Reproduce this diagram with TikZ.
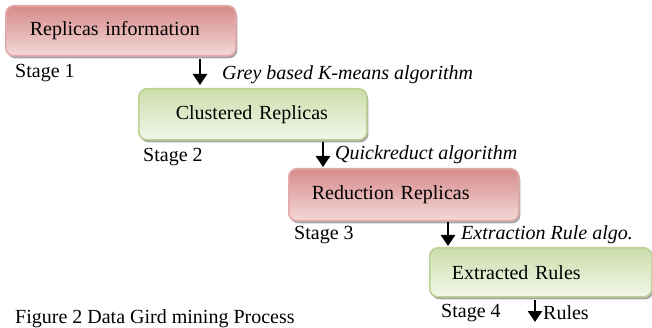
\documentclass[tikz,border=0pt]{standalone}
\usepackage{fontspec}
\setmainfont{Liberation Serif}
\usetikzlibrary{arrows.meta,shadows}
\definecolor{redtop}{HTML}{D68C8B}
\definecolor{redbot}{HTML}{F3D8D7}
\definecolor{redline}{HTML}{E2ABAA}
\definecolor{greentop}{HTML}{CCDDAA}
\definecolor{greenbot}{HTML}{F3F7EA}
\definecolor{greenline}{HTML}{BDD295}
\begin{document}
\begin{tikzpicture}[x=1pt,y=-1pt,
  font=\fontsize{20}{24}\selectfont,
  box/.style={draw, line width=1.6pt, rounded corners=8pt, anchor=north west,
    inner xsep=0pt, inner ysep=0pt, align=left,
    drop shadow={shadow xshift=1.5pt, shadow yshift=-2.5pt, fill=black, opacity=0.35}},
  redbox/.style={box, draw=redline, top color=redtop, bottom color=redbot},
  greenbox/.style={box, draw=greenline, top color=greentop, bottom color=greenbot},
  stagelbl/.style={anchor=base west, inner sep=0pt},
  algolbl/.style={anchor=base west, inner sep=0pt, font=\fontsize{20}{24}\selectfont\itshape},
  flow/.style={line width=2.8pt, -{Triangle[length=11pt,width=14pt]}}
]
\useasboundingbox (0,0) rectangle (652,328);

\node[redbox, minimum width=230pt, minimum height=50pt, text width=230pt] (b1) at (5,5) {\hspace*{24pt}Replicas information};
\node[greenbox, minimum width=228pt, minimum height=51pt, text width=228pt] (b2) at (138,88) {\hspace*{37pt}Clustered Replicas};
\node[redbox, minimum width=230pt, minimum height=52pt, text width=230pt] (b3) at (288,168) {\hspace*{23pt}Reduction Replicas};
\node[greenbox, minimum width=222pt, minimum height=49pt, text width=222pt] (b4) at (429,247) {\hspace*{22pt}Extracted Rules};

\node[stagelbl] (s1) at (15,78) {Stage 1};
\node[stagelbl] (s2) at (143,162) {Stage 2};
\node[stagelbl] (s3) at (294,240) {Stage 3};
\node[stagelbl] (s4) at (441,317) {Stage 4};

\coordinate (a1s) at (200,59);
\coordinate (a1e) at (200,85);
\coordinate (a2s) at (323,142);
\coordinate (a2e) at (323,167);
\coordinate (a3s) at (448,222);
\coordinate (a3e) at (448,246);
\coordinate (a4s) at (535,300);
\coordinate (a4e) at (535,322);
\draw[flow] (a1s) -- (a1e);
\draw[flow] (a2s) -- (a2e);
\draw[flow] (a3s) -- (a3e);
\draw[flow] (a4s) -- (a4e);

\node[algolbl] (l1) at (222,80) {Grey based K-means algorithm};
\node[algolbl] (l2) at (335,160) {Quickreduct algorithm};
\node[algolbl] (l3) at (461,240) {Extraction Rule algo.};
\node[stagelbl] (l4) at (543,319) {Rules};

\node[stagelbl] (cap) at (15,323) {Figure 2 Data Gird mining Process};
\end{tikzpicture}
\end{document}
